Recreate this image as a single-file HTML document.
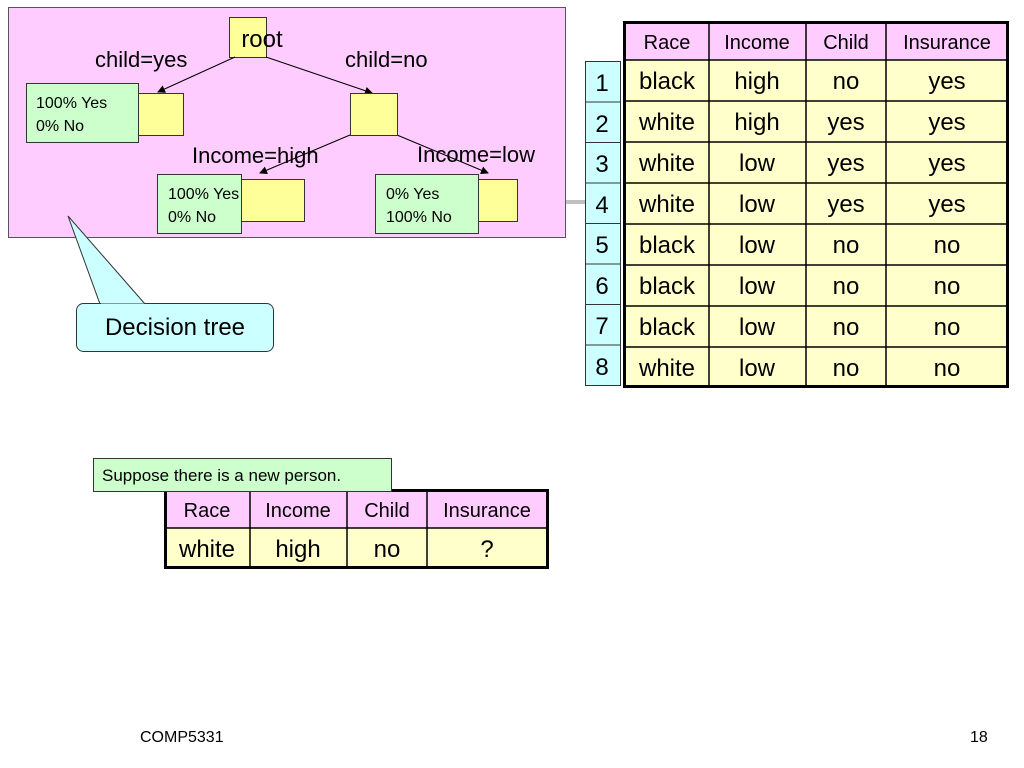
<!DOCTYPE html>
<html><head><meta charset="utf-8"><style>
body{margin:0;background:#fff}
svg{display:block}
text{font-family:"Liberation Sans",sans-serif;fill:#000}
</style></head><body>
<svg width="1024" height="768" viewBox="0 0 1024 768" xmlns="http://www.w3.org/2000/svg">
<defs><marker id="a" markerWidth="8" markerHeight="8" refX="7" refY="4" orient="auto" markerUnits="userSpaceOnUse"><path d="M0,0 L8,4 L0,8 z" fill="#000"/></marker></defs>
<!-- gray connector -->
<line x1="565" y1="202" x2="586" y2="202" stroke="#c0c0c0" stroke-width="4"/>
<!-- pink box -->
<rect x="8.5" y="7.5" width="557" height="230" fill="#ffccff" stroke="#555" stroke-width="1"/>
<!-- callout -->
<path d="M68,216 L100,304 L145,304 Z" fill="#ccffff" stroke="#333"/>
<rect x="76.5" y="303.5" width="197" height="48" rx="7" fill="#ccffff" stroke="#333"/>
<path d="M101,305 L144,305" stroke="#ccffff" stroke-width="3"/>
<text x="175" y="335" font-size="24" text-anchor="middle">Decision tree</text>
<!-- root -->
<rect x="229.5" y="17.5" width="37" height="40" fill="#ffff99" stroke="#333"/>
<text x="262" y="47" font-size="24" text-anchor="middle">root</text>
<!-- edges -->
<line x1="235" y1="57" x2="158" y2="92" stroke="#000" marker-end="url(#a)"/>
<line x1="266" y1="57" x2="372" y2="93" stroke="#000" marker-end="url(#a)"/>
<line x1="350" y1="135" x2="260" y2="173" stroke="#000" marker-end="url(#a)"/>
<line x1="397" y1="135" x2="488" y2="173" stroke="#000" marker-end="url(#a)"/>
<text x="95" y="67" font-size="22">child=yes</text>
<text x="345" y="67" font-size="22">child=no</text>
<text x="192" y="163" font-size="22">Income=high</text>
<text x="417" y="162" font-size="22">Income=low</text>
<!-- nodes -->
<rect x="138.5" y="93.5" width="45" height="42" fill="#ffff99" stroke="#333"/>
<rect x="26.5" y="83.5" width="112" height="59" fill="#ccffcc" stroke="#333"/>
<text x="36" y="108" font-size="16">100% Yes</text><text x="36" y="131" font-size="16">0% No</text>
<rect x="350.5" y="93.5" width="47" height="42" fill="#ffff99" stroke="#333"/>
<rect x="241.5" y="179.5" width="63" height="42" fill="#ffff99" stroke="#333"/>
<rect x="157.5" y="174.5" width="84" height="59" fill="#ccffcc" stroke="#333"/>
<text x="168" y="199" font-size="16">100% Yes</text><text x="168" y="222" font-size="16">0% No</text>
<rect x="478.5" y="179.5" width="39" height="42" fill="#ffff99" stroke="#333"/>
<rect x="375.5" y="174.5" width="103" height="59" fill="#ccffcc" stroke="#333"/>
<text x="386" y="199" font-size="16">0% Yes</text><text x="386" y="222" font-size="16">100% No</text>
<!-- row numbers -->
<g fill="#ccffff" stroke="#333">
<rect x="585.5" y="61.5" width="35" height="40.5"/><rect x="585.5" y="102" width="35" height="40.5"/>
<rect x="585.5" y="142.5" width="35" height="40.5"/><rect x="585.5" y="183" width="35" height="40.5"/>
<rect x="585.5" y="223.5" width="35" height="40.5"/><rect x="585.5" y="264" width="35" height="40.5"/>
<rect x="585.5" y="304.5" width="35" height="40.5"/><rect x="585.5" y="345" width="35" height="40.5"/>
</g>
<g font-size="24" text-anchor="middle">
<text x="602" y="91">1</text><text x="602" y="132">2</text><text x="602" y="172">3</text><text x="602" y="213">4</text>
<text x="602" y="253">5</text><text x="602" y="294">6</text><text x="602" y="334">7</text><text x="602" y="375">8</text>
</g>
<!-- main table -->
<rect x="624" y="22" width="384" height="38" fill="#ffccff"/>
<rect x="624" y="60" width="384" height="327" fill="#ffffcc"/>
<g stroke="#000" stroke-width="1.5">
<line x1="624" y1="60" x2="1008" y2="60"/><line x1="624" y1="101" x2="1008" y2="101"/>
<line x1="624" y1="142" x2="1008" y2="142"/><line x1="624" y1="183" x2="1008" y2="183"/>
<line x1="624" y1="224" x2="1008" y2="224"/><line x1="624" y1="265" x2="1008" y2="265"/>
<line x1="624" y1="306" x2="1008" y2="306"/><line x1="624" y1="347" x2="1008" y2="347"/>
<line x1="709" y1="22" x2="709" y2="387"/><line x1="806" y1="22" x2="806" y2="387"/><line x1="886" y1="22" x2="886" y2="387"/>
</g>
<rect x="624.5" y="22.5" width="383" height="364" fill="none" stroke="#000" stroke-width="3"/>
<g font-size="20" text-anchor="middle">
<text x="667" y="49">Race</text><text x="757" y="49">Income</text><text x="846" y="49">Child</text><text x="947" y="49">Insurance</text>
</g>
<g font-size="24" text-anchor="middle">
<text x="667" y="89">black</text><text x="757" y="89">high</text><text x="846" y="89">no</text><text x="947" y="89">yes</text>
<text x="667" y="130">white</text><text x="757" y="130">high</text><text x="846" y="130">yes</text><text x="947" y="130">yes</text>
<text x="667" y="171">white</text><text x="757" y="171">low</text><text x="846" y="171">yes</text><text x="947" y="171">yes</text>
<text x="667" y="212">white</text><text x="757" y="212">low</text><text x="846" y="212">yes</text><text x="947" y="212">yes</text>
<text x="667" y="253">black</text><text x="757" y="253">low</text><text x="846" y="253">no</text><text x="947" y="253">no</text>
<text x="667" y="294">black</text><text x="757" y="294">low</text><text x="846" y="294">no</text><text x="947" y="294">no</text>
<text x="667" y="335">black</text><text x="757" y="335">low</text><text x="846" y="335">no</text><text x="947" y="335">no</text>
<text x="667" y="376">white</text><text x="757" y="376">low</text><text x="846" y="376">no</text><text x="947" y="376">no</text>
</g>
<!-- new person table -->
<rect x="165" y="490" width="383" height="38" fill="#ffccff"/>
<rect x="165" y="528" width="383" height="40" fill="#ffffcc"/>
<g stroke="#000" stroke-width="1.5">
<line x1="165" y1="528" x2="548" y2="528"/>
<line x1="250" y1="490" x2="250" y2="568"/><line x1="347" y1="490" x2="347" y2="568"/><line x1="427" y1="490" x2="427" y2="568"/>
</g>
<rect x="165.5" y="490.5" width="382" height="77" fill="none" stroke="#000" stroke-width="3"/>
<g font-size="20" text-anchor="middle">
<text x="207" y="517">Race</text><text x="298" y="517">Income</text><text x="387" y="517">Child</text><text x="487" y="517">Insurance</text>
</g>
<g font-size="24" text-anchor="middle">
<text x="207" y="557">white</text><text x="298" y="557">high</text><text x="387" y="557">no</text><text x="487" y="557">?</text>
</g>
<rect x="93.5" y="458.5" width="298" height="33" fill="#ccffcc" stroke="#333"/>
<text x="102" y="481" font-size="17">Suppose there is a new person.</text>
<!-- footer -->
<text x="140" y="742" font-size="16">COMP5331</text>
<text x="970" y="742" font-size="16">18</text>
</svg>
</body></html>
